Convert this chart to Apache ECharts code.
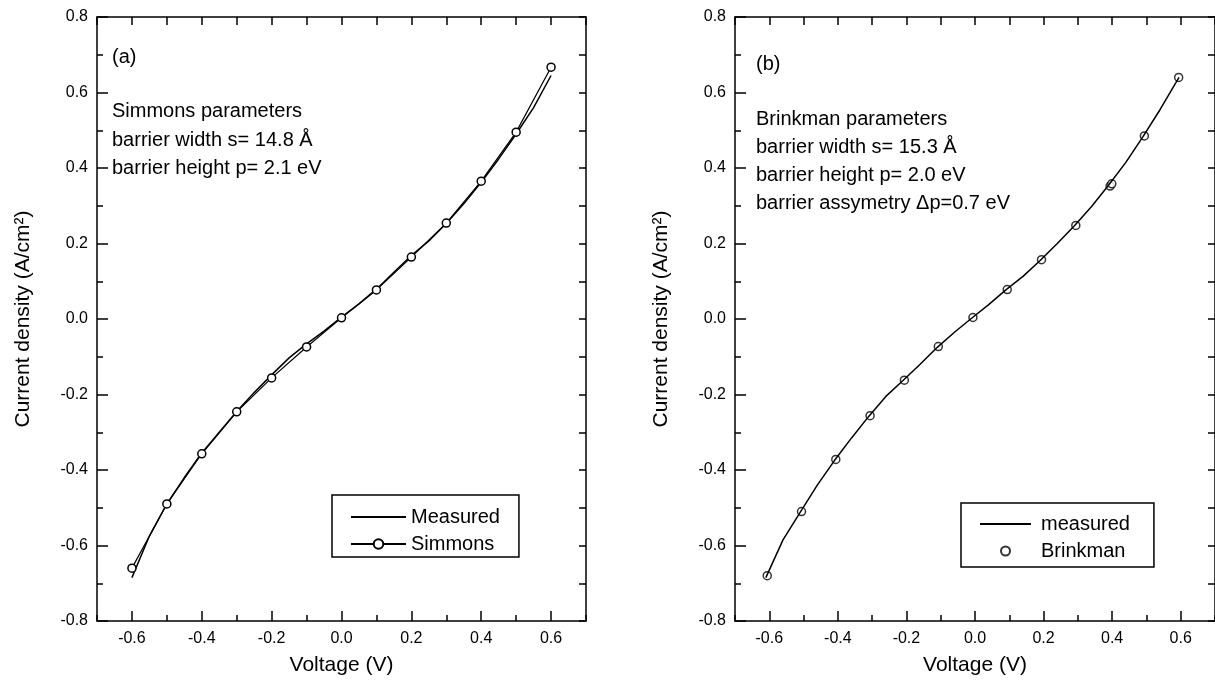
<!DOCTYPE html>
<html>
<head>
<meta charset="utf-8">
<title>I-V curves</title>
<script src="https://cdn.jsdelivr.net/npm/echarts@6/dist/echarts.min.js"></script>
<style>
html, body { margin: 0; padding: 0; background: #fff; }
#chart { width: 1215px; height: 693px; }
</style>
</head>
<body>
<div id="chart"></div>
<script>
// panel (a): measured curve + Simmons fit
var voltsA = [-0.6, -0.55, -0.5, -0.45, -0.4, -0.35, -0.3, -0.25, -0.2, -0.15, -0.1, -0.05, 0.0,
              0.05, 0.1, 0.15, 0.2, 0.25, 0.3, 0.35, 0.4, 0.45, 0.5, 0.55, 0.6];
var measuredA = [-0.685, -0.575, -0.49, -0.42, -0.355, -0.3, -0.245, -0.195, -0.148, -0.103, -0.066, -0.032, 0.005,
                 0.04, 0.079, 0.124, 0.168, 0.207, 0.253, 0.305, 0.362, 0.424, 0.49, 0.56, 0.645];
var simmonsV = [-0.6, -0.5, -0.4, -0.3, -0.2, -0.1, 0.0, 0.1, 0.2, 0.3, 0.4, 0.5, 0.6];
var simmonsJ = [-0.66, -0.49, -0.357, -0.246, -0.156, -0.074, 0.003, 0.077, 0.164, 0.254, 0.365, 0.495, 0.667];

// panel (b): measured curve + Brinkman fit
var voltsB = [-0.61, -0.56, -0.51, -0.46, -0.41, -0.36, -0.31, -0.26, -0.21, -0.16, -0.11, -0.06, -0.01,
              0.04, 0.09, 0.14, 0.19, 0.24, 0.29, 0.34, 0.39, 0.44, 0.49, 0.54, 0.595];
var measuredB = [-0.685, -0.585, -0.512, -0.44, -0.375, -0.315, -0.258, -0.205, -0.163, -0.12, -0.075, -0.035, 0.002,
                 0.038, 0.077, 0.113, 0.155, 0.2, 0.247, 0.298, 0.355, 0.415, 0.483, 0.555, 0.64];
var brinkmanV = [-0.606, -0.506, -0.406, -0.306, -0.206, -0.107, -0.006, 0.094, 0.194, 0.294, 0.394, 0.399, 0.494, 0.594];
var brinkmanJ = [-0.68, -0.51, -0.372, -0.256, -0.162, -0.073, 0.004, 0.078, 0.157, 0.248, 0.352, 0.358, 0.485, 0.64];

var xTicks = [-0.6, -0.4, -0.2, 0.0, 0.2, 0.4, 0.6];

function pairs(xs, ys) {
    return xs.map(function (x, i) { return [x, ys[i]]; });
}

var black = { color: '#000', width: 1.5 };
var font = 'Liberation Sans, Arial, sans-serif';

function xAxes(g) {
    return [
        {   // bottom axis with labels and long ticks
            type: 'value', gridIndex: g, position: 'bottom', min: -0.7, max: 0.7,
            axisLine: { show: true, onZero: false, lineStyle: black },
            axisTick: { show: true, inside: true, length: 10, customValues: xTicks, lineStyle: black },
            axisLabel: { customValues: xTicks, margin: 10, fontSize: 16, color: '#000', fontFamily: font,
                formatter: function (v) { return v.toFixed(1); } },
            splitLine: { show: false },
            name: 'Voltage (V)', nameLocation: 'middle', nameGap: 34,
            nameTextStyle: { fontSize: 21, color: '#000', fontFamily: font }
        },
        {   // short ticks every 0.1
            type: 'value', gridIndex: g, position: 'bottom', min: -0.7, max: 0.7, interval: 0.1,
            axisLine: { show: false, onZero: false },
            axisTick: { show: true, inside: true, length: 6, lineStyle: black },
            axisLabel: { show: false }, splitLine: { show: false }
        },
        {   // top frame
            type: 'value', gridIndex: g, position: 'top', min: -0.7, max: 0.7, interval: 0.1,
            axisLine: { show: true, onZero: false, lineStyle: black },
            axisTick: { show: true, inside: true, length: 8, lineStyle: black },
            axisLabel: { show: false }, splitLine: { show: false }
        }
    ];
}

function yAxes(g) {
    return [
        {
            type: 'value', gridIndex: g, position: 'left', min: -0.8, max: 0.8, interval: 0.2,
            axisLine: { show: true, onZero: false, lineStyle: black },
            axisTick: { show: true, inside: true, length: 11, lineStyle: black },
            minorTick: { show: true, splitNumber: 2, length: 6, lineStyle: black },
            axisLabel: { margin: 9, fontSize: 16, color: '#000', fontFamily: font,
                formatter: function (v) { return v.toFixed(1); } },
            splitLine: { show: false },
            name: 'Current density (A/cm²)', nameLocation: 'middle', nameGap: 63,
            nameTextStyle: { fontSize: 21, color: '#000', fontFamily: font }
        },
        {   // right frame
            type: 'value', gridIndex: g, position: 'right', min: -0.8, max: 0.8, interval: 0.1,
            axisLine: { show: true, onZero: false, lineStyle: black },
            axisTick: { show: true, inside: true, length: 7, lineStyle: black },
            axisLabel: { show: false }, splitLine: { show: false }
        }
    ];
}

function note(x, y, str) {
    return { type: 'text', x: x, y: y,
        style: { text: str, fill: '#000', font: '20px ' + font, verticalAlign: 'middle' } };
}

var legendBase = {
    orient: 'vertical', borderColor: '#000', borderWidth: 1.5, borderRadius: 0,
    itemHeight: 12, itemGap: 7, selectedMode: false,
    textStyle: { fontSize: 20, color: '#000', fontFamily: font, lineHeight: 20 }
};
// line-only legend entry (hide the marker the legend adds)
var noMarker = { color: 'rgba(0,0,0,0)', borderWidth: 0, opacity: 0 };

var chart = echarts.init(document.getElementById('chart'));
chart.setOption({
    backgroundColor: '#fff',
    animation: false,
    grid: [
        { left: 97, top: 17, width: 489, height: 604 },
        { left: 735, top: 17, width: 488, height: 604 }
    ],
    xAxis: xAxes(0).concat(xAxes(1)),
    yAxis: yAxes(0).concat(yAxes(1)),
    legend: [
        Object.assign({}, legendBase, {
            left: 332, top: 495, itemWidth: 55, padding: [12, 19, 3, 18],
            data: [{ name: 'Measured', itemStyle: noMarker }, 'Simmons']
        }),
        Object.assign({}, legendBase, {
            left: 961, top: 503, itemWidth: 51, itemHeight: 9, padding: [11, 24, 6, 18],
            textStyle: Object.assign({}, legendBase.textStyle, { padding: [0, 0, 0, 5] }),
            data: [{ name: 'measured', itemStyle: noMarker }, 'Brinkman']
        })
    ],
    graphic: [
        note(112, 57, '(a)'),
        note(112, 111, 'Simmons parameters'),
        note(112, 140, 'barrier width s= 14.8 Å'),
        note(112, 168, 'barrier height p= 2.1 eV'),
        note(756, 64, '(b)'),
        note(756, 119, 'Brinkman parameters'),
        note(756, 147, 'barrier width s= 15.3 Å'),
        note(756, 175, 'barrier height p= 2.0 eV'),
        note(756, 203, 'barrier assymetry Δp=0.7 eV')
    ],
    series: [
        {
            name: 'Measured', type: 'line', xAxisIndex: 0, yAxisIndex: 0,
            data: pairs(voltsA, measuredA), symbol: 'none',
            lineStyle: { color: '#000', width: 1.5 }, itemStyle: { color: '#000' }
        },
        {
            name: 'Simmons', type: 'line', xAxisIndex: 0, yAxisIndex: 0,
            data: pairs(simmonsV, simmonsJ), symbol: 'circle', symbolSize: 8,
            lineStyle: { color: '#000', width: 1.2 },
            itemStyle: { color: '#fff', borderColor: '#000', borderWidth: 1.5 }
        },
        {
            name: 'measured', type: 'line', xAxisIndex: 3, yAxisIndex: 2,
            data: pairs(voltsB, measuredB), symbol: 'none',
            lineStyle: { color: '#000', width: 1.5 }, itemStyle: { color: '#000' }
        },
        {
            name: 'Brinkman', type: 'scatter', xAxisIndex: 3, yAxisIndex: 2,
            data: pairs(brinkmanV, brinkmanJ), symbol: 'circle', symbolSize: 8,
            itemStyle: { color: '#fff', borderColor: '#000', borderWidth: 1.5 }
        }
    ]
});
</script>
</body>
</html>
